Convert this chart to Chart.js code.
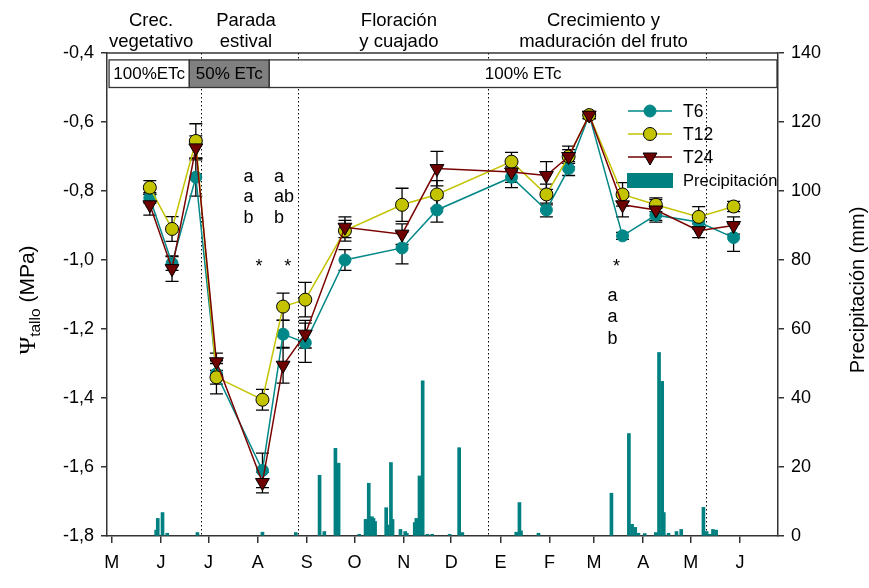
<!DOCTYPE html>
<html>
<head>
<meta charset="utf-8">
<script src="https://cdn.jsdelivr.net/npm/chart.js@4.4.1/dist/chart.umd.min.js"></script>
<style>
  html, body { margin: 0; padding: 0; background: #fff; }
  #wrap { width: 869px; height: 588px; }
</style>
</head>
<body>
<div id="wrap"><canvas id="c" width="869" height="588"></canvas></div>
<script>
// ---------------- Datos ----------------
// eje x en dias desde el 1 de mayo
const monthStartDays = [0, 31, 61, 92, 123, 153, 184, 214, 245, 276, 304, 335, 365, 396];
const monthLabels = ["M", "J", "J", "A", "S", "O", "N", "D", "E", "F", "M", "A", "M", "J"];

const sampleDays = [24, 38, 53, 66, 95, 108, 122, 147, 183, 205, 252, 274, 288, 301, 322, 343, 370, 392];
const t6  = [-0.82, -1.01, -0.76, -1.33, -1.61, -1.215, -1.24, -1.00, -0.965, -0.855, -0.76, -0.855, -0.735, -0.58, -0.93, -0.87, -0.89, -0.935];
const t12 = [-0.79, -0.91, -0.655, -1.34, -1.405, -1.135, -1.115, -0.915, -0.84, -0.81, -0.715, -0.81, -0.70, -0.58, -0.81, -0.84, -0.875, -0.845];
const t24 = [-0.84, -1.025, -0.675, -1.295, -1.645, -1.305, -1.215, -0.905, -0.925, -0.735, -0.745, -0.755, -0.70, -0.58, -0.84, -0.855, -0.915, -0.90];
const t6Err  = [0.015, 0.02, 0.055, 0.03, 0.05, 0.04, 0.057, 0.03, 0.046, 0.035, 0.03, 0.02, 0.02, 0.01, 0.01, 0.02, 0.02, 0.04];
const t12Err = [0.02, 0.036, 0.05, 0.048, 0.03, 0.039, 0.05, 0.03, 0.048, 0.04, 0.027, 0.03, 0.02, 0.01, 0.034, 0.02, 0.03, 0.015];
const t24Err = [0.03, 0.037, 0.035, 0.025, 0.03, 0.052, 0.04, 0.03, 0.03, 0.05, 0.03, 0.04, 0.03, 0.01, 0.035, 0.03, 0.02, 0.025];

const precipDays = [28, 29, 32, 35, 54, 95, 116, 131, 134, 141, 143, 156, 160, 161, 162, 164, 165, 166, 173, 174,
  176, 177, 182, 185, 186, 191, 192, 194, 196, 199, 202, 213, 219, 221, 255, 257, 258, 269, 315, 326,
  328, 330, 332, 336, 343, 345, 347, 348, 351, 356, 359, 373, 375, 377, 379, 381];
const precipMm = [1.7, 5.1, 6.8, 0.8, 1.0, 1.1, 1.0, 17.6, 1.3, 25.4, 21.1, 0.5, 4.8, 4.8, 15.3, 5.6, 5.1, 4.2, 8.2, 3.2,
  21.3, 4.8, 1.9, 1.3, 0.8, 3.9, 5.1, 17.4, 45, 0.5, 0.5, 0.5, 25.6, 1.0, 1.1, 9.7, 1.5, 0.8, 12.4, 29.7,
  3.4, 2.5, 0.8, 0.7, 1.0, 53.2, 44.8, 6.8, 0.8, 1.3, 1.9, 8.3, 1.3, 0.5, 1.9, 1.7];

// fases y riego
const phaseLines = [56.3, 117.3, 237.1, 374.9];
const phaseNames = [["Crec.", "vegetativo"], ["Parada", "estival"], ["Floración", "y cuajado"], ["Crecimiento y", "maduración del fruto"]];
const phaseCenters = [24.8, 84.6, 181, 310];
const irrigBounds = [-1.7, 48.9, 99.3, 420];
const irrigLabels = ["100%ETc", "50% ETc", "100% ETc"];

// letras de significancia
const letterDays = [83, 102.3, 312.5];
const letterVals = [[-0.759, -0.818, -0.879], [-0.759, -0.818, -0.879], [-1.104, -1.165, -1.229]];
const letterTexts = [["a", "a", "b"], ["a", "ab", "b"], ["a", "a", "b"]];
const starDays = [92.9, 111, 318.2];
const starVal = -1.02;

// ---------------- Colores ----------------
const cT6 = "#008787", cT12 = "#c3c300", cT24 = "#6e0000", cBar = "#008080";

function pts(vals) { return vals.map((v, i) => ({ x: sampleDays[i], y: v })); }

function marker(ctx, kind, x, y, fill) {
  ctx.save();
  ctx.beginPath();
  if (kind === "tri") {
    const r = 8;
    ctx.moveTo(x, y + r);
    ctx.lineTo(x - r * 0.866, y - r / 2);
    ctx.lineTo(x + r * 0.866, y - r / 2);
    ctx.closePath();
  } else {
    ctx.arc(x, y, kind === "c6" ? 6 : 6.5, 0, Math.PI * 2);
  }
  ctx.fillStyle = fill;
  ctx.fill();
  ctx.lineWidth = 1;
  ctx.strokeStyle = kind === "c6" ? fill : "#000";
  ctx.stroke();
  ctx.restore();
}

const overlay = {
  id: "overlay",
  beforeDatasetsDraw(chart) {
    const { ctx, chartArea: a, scales: { x, y } } = chart;
    ctx.save();
    // lineas punteadas de fases
    ctx.strokeStyle = "#000";
    ctx.lineWidth = 1;
    ctx.setLineDash([1.5, 2.5]);
    phaseLines.forEach(d => {
      const px = Math.round(x.getPixelForValue(d)) + 0.5;
      ctx.beginPath();
      ctx.moveTo(px, a.top);
      ctx.lineTo(px, a.bottom);
      ctx.stroke();
    });
    ctx.setLineDash([]);
    // barras de error
    ctx.lineWidth = 1.3;
    ctx.strokeStyle = "#000";
    [[t6, t6Err], [t12, t12Err], [t24, t24Err]].forEach(([vals, errs]) => {
      vals.forEach((v, i) => {
        const px = x.getPixelForValue(sampleDays[i]);
        const y1 = y.getPixelForValue(v + errs[i]);
        const y2 = y.getPixelForValue(v - errs[i]);
        ctx.beginPath();
        ctx.moveTo(px, y1); ctx.lineTo(px, y2);
        ctx.moveTo(px - 6.5, y1); ctx.lineTo(px + 6.5, y1);
        ctx.moveTo(px - 6.5, y2); ctx.lineTo(px + 6.5, y2);
        ctx.stroke();
      });
    });
    ctx.restore();
  },
  afterDraw(chart) {
    const { ctx, chartArea: a, scales: { x, y } } = chart;
    ctx.save();
    // borde superior
    ctx.strokeStyle = "#333";
    ctx.lineWidth = 1.5;
    ctx.beginPath();
    ctx.moveTo(a.left, a.top); ctx.lineTo(a.right, a.top);
    ctx.stroke();

    // caja de riego
    const bTop = y.getPixelForValue(-0.42), bBot = y.getPixelForValue(-0.5);
    ctx.font = "17px 'Liberation Sans', Arial, sans-serif";
    ctx.textAlign = "center";
    ctx.textBaseline = "middle";
    for (let i = 0; i < irrigLabels.length; i++) {
      const x0 = x.getPixelForValue(irrigBounds[i]);
      const x1 = Math.min(x.getPixelForValue(irrigBounds[i + 1]), a.right - 1);
      ctx.fillStyle = i === 1 ? "#808080" : "#fff";
      ctx.fillRect(x0, bTop, x1 - x0, bBot - bTop);
      ctx.strokeStyle = "#333";
      ctx.lineWidth = 1.3;
      ctx.strokeRect(x0, bTop, x1 - x0, bBot - bTop);
      ctx.fillStyle = "#000";
      ctx.fillText(irrigLabels[i], (x0 + x1) / 2, (bTop + bBot) / 2 + 1);
    }

    // nombres de fases
    ctx.font = "18.5px 'Liberation Sans', Arial, sans-serif";
    phaseNames.forEach((lines, i) => {
      const px = x.getPixelForValue(phaseCenters[i]);
      ctx.fillText(lines[0], px, 21);
      ctx.fillText(lines[1], px, 42);
    });

    // letras y asteriscos
    ctx.font = "18px 'Liberation Sans', Arial, sans-serif";
    ctx.textAlign = "left";
    letterDays.forEach((d, i) => {
      letterTexts[i].forEach((t, j) => {
        ctx.fillText(t, x.getPixelForValue(d), y.getPixelForValue(letterVals[i][j]));
      });
    });
    ctx.textAlign = "center";
    starDays.forEach(d => ctx.fillText("*", x.getPixelForValue(d), y.getPixelForValue(starVal)));

    // leyenda
    const lx0 = 628, lx1 = 672, tx = 683;
    const rows = [["T6", cT6, "c6", 111], ["T12", cT12, "c12", 134], ["T24", cT24, "tri", 157]];
    ctx.font = "17.5px 'Liberation Sans', Arial, sans-serif";
    ctx.textAlign = "left";
    rows.forEach(([lab, col, kind, ly]) => {
      ctx.strokeStyle = col;
      ctx.lineWidth = 1.5;
      ctx.beginPath(); ctx.moveTo(lx0, ly); ctx.lineTo(lx1, ly); ctx.stroke();
      marker(ctx, kind, (lx0 + lx1) / 2, ly, col);
      ctx.fillStyle = "#000";
      ctx.fillText(lab, tx, ly + 1);
    });
    ctx.fillStyle = cBar;
    ctx.fillRect(627, 173, 46, 15);
    ctx.fillStyle = "#000";
    ctx.font = "16.5px 'Liberation Sans', Arial, sans-serif";
    ctx.fillText("Precipitación", tx, 181);

    // titulos de ejes
    ctx.save();
    ctx.translate(27, 300);
    ctx.rotate(-Math.PI / 2);
    const fPsi = "24px 'Liberation Serif', 'DejaVu Serif', serif";
    const fSub = "15.5px 'Liberation Sans', Arial, sans-serif";
    const fMain = "21px 'Liberation Sans', Arial, sans-serif";
    ctx.font = fPsi; const wPsi = ctx.measureText("Ψ").width;
    ctx.font = fSub; const wSub = ctx.measureText("tallo").width;
    ctx.font = fMain; const wMain = ctx.measureText(" (MPa)").width;
    let cx = -(wPsi + wSub + wMain) / 2;
    ctx.textAlign = "left";
    ctx.textBaseline = "alphabetic";
    ctx.font = fPsi; ctx.fillText("Ψ", cx, 8); cx += wPsi;
    ctx.font = fSub; ctx.fillText("tallo", cx, 13); cx += wSub;
    ctx.font = fMain; ctx.fillText(" (MPa)", cx, 7);
    ctx.restore();

    ctx.save();
    ctx.translate(858, 290);
    ctx.rotate(-Math.PI / 2);
    ctx.textAlign = "center";
    ctx.textBaseline = "middle";
    ctx.font = "20px 'Liberation Sans', Arial, sans-serif";
    ctx.fillText("Precipitación (mm)", 0, 0);
    ctx.restore();

    ctx.restore();
  }
};

const tickFont = { family: "'Liberation Sans', Arial, sans-serif", size: 18 };

new Chart(document.getElementById("c"), {
  type: "bar",
  data: {
    datasets: [
      {
        type: "line", label: "T24", data: pts(t24), order: 0,
        borderColor: "#7a0000", borderWidth: 1.5, backgroundColor: cT24,
        pointStyle: "triangle", rotation: 180, pointRadius: 8, pointBorderColor: "#000", pointBorderWidth: 1,
        yAxisID: "y"
      },
      {
        type: "line", label: "T12", data: pts(t12), order: 1,
        borderColor: cT12, borderWidth: 1.5, backgroundColor: cT12,
        pointStyle: "circle", pointRadius: 6.5, pointBorderColor: "#000", pointBorderWidth: 1,
        yAxisID: "y"
      },
      {
        type: "line", label: "T6", data: pts(t6), order: 2,
        borderColor: cT6, borderWidth: 1.5, backgroundColor: cT6,
        pointStyle: "circle", pointRadius: 6, pointBorderColor: cT6, pointBorderWidth: 1,
        yAxisID: "y"
      },
      {
        type: "bar", label: "Precipitación", order: 3,
        data: precipDays.map((d, i) => ({ x: d, y: precipMm[i] })),
        backgroundColor: cBar, barThickness: 3, yAxisID: "y1"
      }
    ]
  },
  options: {
    responsive: false,
    animation: false,
    devicePixelRatio: 1,
    layout: { padding: { top: 53, left: 0, right: 0, bottom: 0 } },
    plugins: { legend: { display: false }, tooltip: { enabled: false } },
    scales: {
      x: {
        type: "linear", min: -3, max: 420, offset: false,
        afterBuildTicks: s => { s.ticks = monthStartDays.map(v => ({ value: v })); },
        afterFit: s => { s.height = 52; },
        ticks: { callback: (v, i) => monthLabels[i], color: "#000", font: tickFont, padding: 9, maxRotation: 0, autoSkip: false },
        grid: { offset: false, drawOnChartArea: false, tickLength: 7, color: "#333", lineWidth: 1.5 },
        border: { color: "#333", width: 1.5 }
      },
      y: {
        position: "left", min: -1.8, max: -0.4,
        afterFit: s => { s.width = 107; },
        ticks: { stepSize: 0.2, color: "#000", font: tickFont, padding: 7,
          callback: v => v.toFixed(1).replace(".", ",") },
        grid: { drawOnChartArea: false, tickLength: 6, color: "#333", lineWidth: 1.5 },
        border: { color: "#333", width: 1.5 }
      },
      y1: {
        position: "right", min: 0, max: 140,
        afterFit: s => { s.width = 91; },
        ticks: { stepSize: 20, color: "#000", font: tickFont, padding: 7 },
        grid: { drawOnChartArea: false, tickLength: 6, color: "#333", lineWidth: 1.5 },
        border: { color: "#333", width: 1.5 }
      }
    }
  },
  plugins: [overlay]
});
</script>
</body>
</html>
